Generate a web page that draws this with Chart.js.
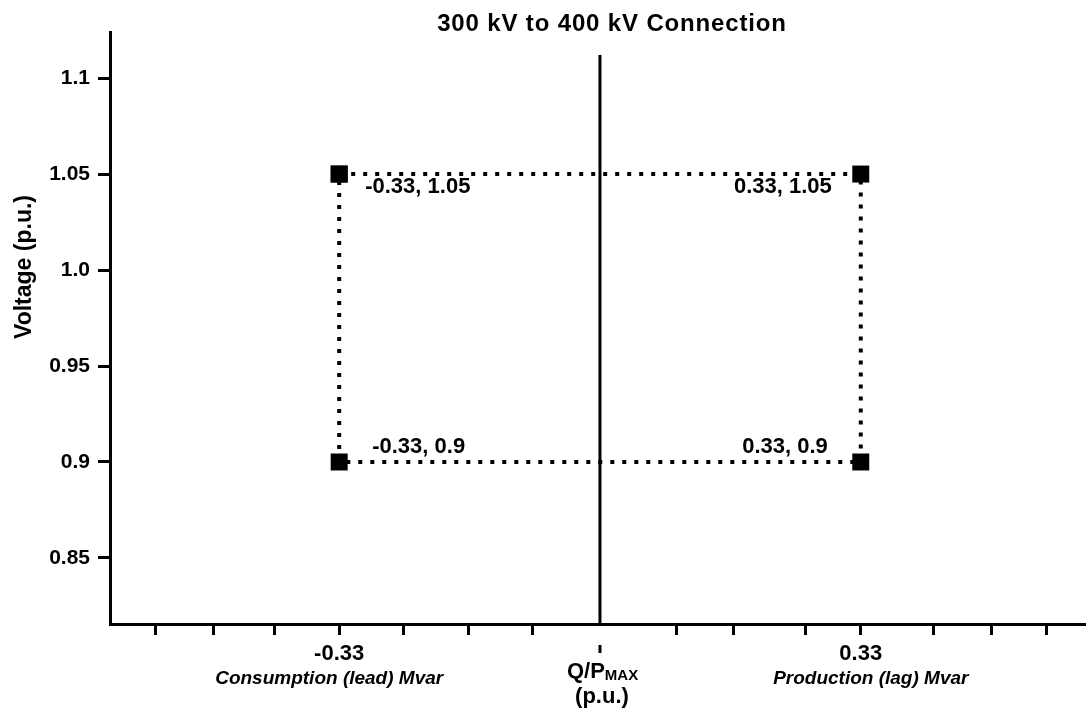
<!DOCTYPE html>
<html>
<head>
<meta charset="utf-8">
<script src="https://cdn.jsdelivr.net/npm/chart.js@4"></script>
<style>
    body { margin: 0; background: #ffffff; }
    #wrap { width: 1086px; height: 709px; position: relative; }
</style>
</head>
<body>
<div id="wrap"><canvas id="chart"></canvas></div>
<script>
// Dados do gráfico
const qValues = [-0.33, 0.33, 0.33, -0.33, -0.33];
const vValues = [1.05, 1.05, 0.9, 0.9, 1.05];
const cornerLabels = ['-0.33, 1.05', '0.33, 1.05', '0.33, 0.9', '-0.33, 0.9'];
const centerLineQ = [0, 0];
const centerLineV = [0.8156, 1.112];
const yTicks = [0.85, 0.9, 0.95, 1.0, 1.05, 1.1];
const yTickLabels = ['0.85', '0.9', '0.95', '1.0', '1.05', '1.1'];
const xTicks = [-0.563, -0.489, -0.412, -0.33, -0.249, -0.166, -0.086, 0.097, 0.169, 0.26, 0.33, 0.422, 0.496, 0.565];
const xTickLabels = ['', '', '', '-0.33', '', '', '', '', '', '', '0.33', '', '', ''];
const xCaptions = ['Consumption (lead) Mvar', 'Production (lag) Mvar'];
const captionAt = [-0.33, 0.33];
const chartTitle = '300 kV to 400 kV Connection';
const yTitle = 'Voltage (p.u.)';

const FONT = '"Liberation Sans", Arial, sans-serif';

// Textos extras (título, legendas do eixo, rótulos dos cantos)
const extraText = {
    id: 'extraText',
    afterDraw(chart) {
        const ctx = chart.ctx;
        const xs = chart.scales.x;
        const ys = chart.scales.y;
        ctx.save();
        ctx.fillStyle = '#000';
        ctx.textBaseline = 'middle';

        // título
        ctx.font = 'bold 24px ' + FONT;
        ctx.textAlign = 'center';
        ctx.letterSpacing = '0.85px';
        ctx.fillText(chartTitle, 612, 24);
        ctx.letterSpacing = '0px';

        // título do eixo y
        ctx.save();
        ctx.translate(25, 267);
        ctx.rotate(-Math.PI / 2);
        ctx.font = 'bold 23px ' + FONT;
        ctx.fillText(yTitle, 0, 0);
        ctx.restore();

        // rótulos dos cantos
        ctx.font = 'bold 22px ' + FONT;
        cornerLabels.forEach((txt, i) => {
            const px = xs.getPixelForValue(qValues[i]);
            const py = ys.getPixelForValue(vValues[i]);
            const upper = vValues[i] > 1;
            const dx = upper ? (qValues[i] < 0 ? 26 : -29) : (qValues[i] < 0 ? 33 : -33);
            ctx.textAlign = qValues[i] < 0 ? 'left' : 'right';
            ctx.fillText(txt, px + dx, py + (upper ? 13 : -15));
        });

        // legendas em itálico
        ctx.font = 'italic bold 19px ' + FONT;
        ctx.textAlign = 'center';
        xCaptions.forEach((txt, i) => {
            const px = xs.getPixelForValue(captionAt[i]);
            ctx.fillText(txt, px + (captionAt[i] < 0 ? -10 : 10), 679);
        });

        // Q/P MAX (p.u.)
        const cx = xs.getPixelForValue(0);
        ctx.fillRect(cx - 1.5, 645, 3, 8);
        ctx.textBaseline = 'alphabetic';
        ctx.textAlign = 'left';
        ctx.font = 'bold 22px ' + FONT;
        ctx.fillText('Q/P', cx - 33, 678);
        const w = ctx.measureText('Q/P').width;
        ctx.font = 'bold 15px ' + FONT;
        ctx.fillText('MAX', cx - 33 + w, 680);
        ctx.font = 'bold 22px ' + FONT;
        ctx.textAlign = 'center';
        ctx.fillText('(p.u.)', cx + 2, 703);
        ctx.restore();
    }
};

const ctx = document.getElementById('chart');
new Chart(ctx, {
    type: 'scatter',
    data: {
        datasets: [
            {
                data: qValues.map((q, i) => ({ x: q, y: vValues[i] })),
                showLine: true,
                borderColor: '#000',
                borderWidth: 4,
                borderDash: [4, 8],
                borderCapStyle: 'butt',
                pointStyle: 'rect',
                pointRadius: 12,
                pointBorderWidth: 0,
                pointBackgroundColor: '#000',
                pointHoverRadius: 12,
            },
            {
                data: centerLineQ.map((q, i) => ({ x: q, y: centerLineV[i] })),
                showLine: true,
                borderColor: '#000',
                borderWidth: 3,
                pointRadius: 0,
                pointHoverRadius: 0,
            }
        ]
    },
    options: {
        responsive: true,
        maintainAspectRatio: false,
        animation: false,
        layout: {
            autoPadding: false,
            padding: { top: 32, right: 0, bottom: 0, left: 0 }
        },
        plugins: {
            legend: { display: false },
            tooltip: { enabled: false },
            title: { display: false }
        },
        scales: {
            x: {
                type: 'linear',
                min: -0.62,
                max: 0.615,
                afterBuildTicks: (scale) => {
                    scale.ticks = xTicks.map(v => ({ value: v }));
                },
                afterFit: (scale) => {
                    scale.height = 85;
                    scale.paddingLeft = 0;
                    scale.paddingRight = 0;
                },
                border: { display: true, color: '#000', width: 3 },
                grid: {
                    drawOnChartArea: false,
                    drawTicks: true,
                    tickLength: 11,
                    tickWidth: 3,
                    tickColor: '#000'
                },
                ticks: {
                    autoSkip: false,
                    maxRotation: 0,
                    padding: 6,
                    color: '#000',
                    font: { family: FONT, size: 22, weight: 'bold' },
                    callback: (value, index) => xTickLabels[index]
                }
            },
            y: {
                type: 'linear',
                min: 0.8156,
                max: 1.124,
                afterBuildTicks: (scale) => {
                    scale.ticks = yTicks.map(v => ({ value: v }));
                },
                afterFit: (scale) => { scale.width = 110; },
                border: { display: true, color: '#000', width: 3 },
                grid: {
                    drawOnChartArea: false,
                    drawTicks: true,
                    tickLength: 12,
                    tickWidth: 3,
                    tickColor: '#000'
                },
                ticks: {
                    padding: 8,
                    color: '#000',
                    font: { family: FONT, size: 21, weight: 'bold' },
                    callback: (value, index) => yTickLabels[index]
                }
            }
        }
    },
    plugins: [extraText]
});
</script>
</body>
</html>
